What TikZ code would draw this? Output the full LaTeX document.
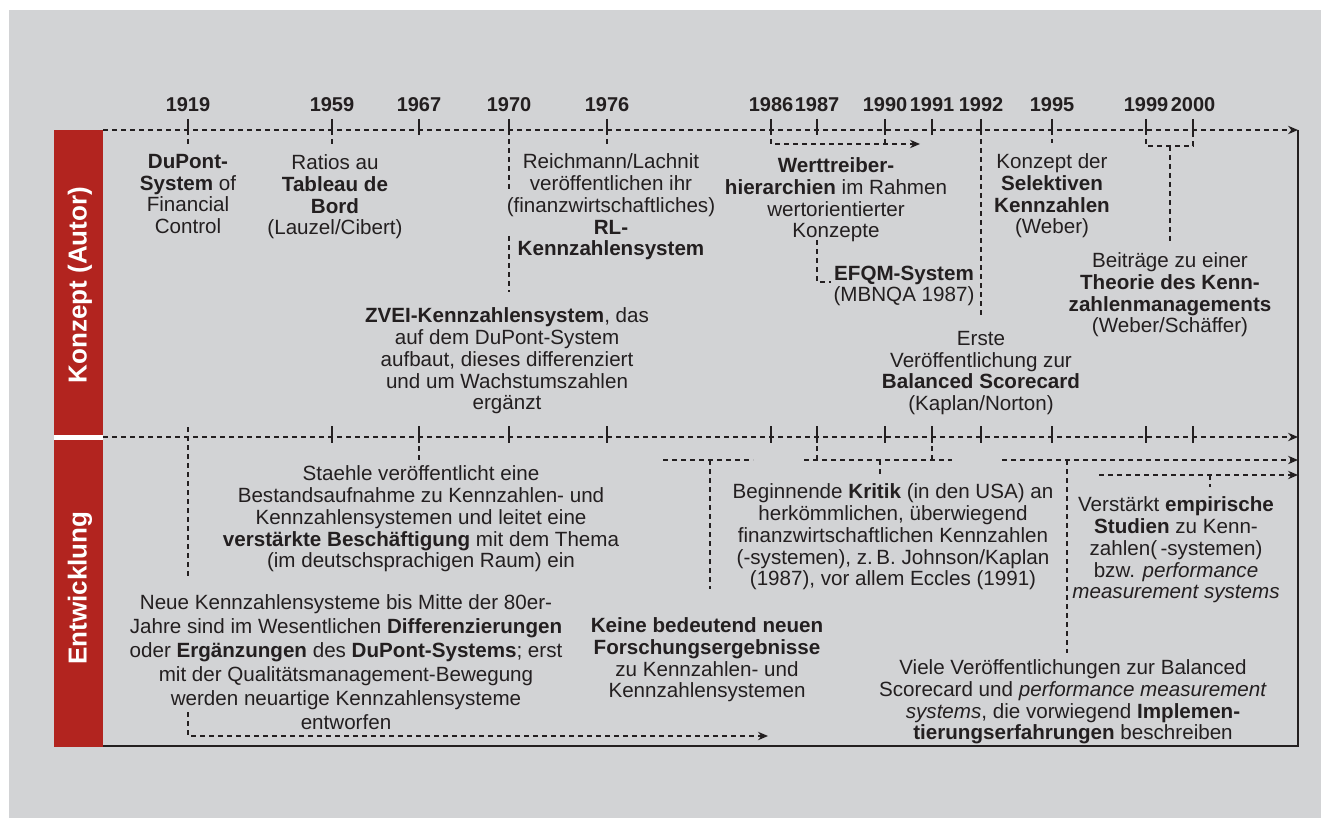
\documentclass[tikz,border=0pt]{standalone}
\usepackage{fontspec}
\setmainfont{Liberation Sans}
\usetikzlibrary{arrows.meta}
\definecolor{bggray}{HTML}{D2D3D5}
\definecolor{barred}{HTML}{B2241F}
\definecolor{ink}{HTML}{231F20}

\begin{document}
\begin{tikzpicture}[x=0.5pt,y=-0.5pt,
	conn/.style={draw=ink,line width=0.65pt,dash pattern=on 2.5pt off 2pt},
	tick/.style={draw=ink,line width=0.75pt},
	txt/.style={align=center,inner sep=0pt,text=ink,font=\fontsize{10.3}{10.85}\selectfont},
	year/.style={inner sep=0pt,text=ink,font=\fontsize{10}{12}\selectfont\bfseries},
	barlabel/.style={rotate=90,inner sep=0pt,text=white,font=\fontsize{13}{15}\selectfont\bfseries},
	tip/.style={-{Stealth[length=5pt,width=4.2pt]}}]
	%BACKGROUND
	\fill[white] (0,0) rectangle (1321,818);
	\fill[bggray] (9,10) rectangle (1321,818);
	\useasboundingbox (0,0) rectangle (1321,818);
	
	%RED BAR
	\fill[barred] (54,130) rectangle (103,747);
	\fill[white] (54,434.5) rectangle (103,439.5);
	\node[barlabel] (konzept) at (80,285) {Konzept (Autor)};
	\node[barlabel] (entw) at (80,588) {Entwicklung};
	
	%FRAME AND TIME LINES
	\draw[ink,line width=1pt] (1298,130) -- (1298,746) -- (103,746);
	\draw[conn,tip] (103,130) -- (1298,130);
	\draw[conn,tip] (103,437) -- (1298,437);
	\foreach \x/\yr in {188/1919,332/1959,419/1967,509/1970,607/1976,771/1986,817/1987,885/1990,932/1991,981/1992,1052/1995,1146/1999,1193/2000}{
		\node[year] (y\yr) at (\x,105) {\yr};
		\coordinate (a\yr) at (\x,130);
		\coordinate (b\yr) at (\x,437);
		\draw[tick] (\x,119) -- (\x,135);
	}
	\foreach \x in {332,419,509,607,771,817,885,932,981,1052,1146,1193}
		\draw[tick] (\x,426) -- (\x,443);
	
	%KONZEPT TEXTS
	\node[txt] (dupont) at (188,194) {\textbf{DuPont-}\\\textbf{System} of\\Financial\\Control};
	\node[txt] (ratios) at (335,197) {Ratios au\\\textbf{Tableau de}\\\textbf{Bord}\\(Lauzel/Cibert)};
	\node[txt] (reich) at (611,207) {Reichmann/Lachnit\\veröffentlichen ihr\\(finanzwirtschaftliches)\\\textbf{RL-}\\\textbf{Kennzahlensystem}};
	\node[txt] (wert) at (836,200) {\textbf{Werttreiber-}\\\textbf{hierarchien} im Rahmen\\wertorientierter\\Konzepte};
	\node[txt] (efqm) at (904,286) {\textbf{EFQM-System}\\(MBNQA 1987)};
	\node[txt] (zvei) at (507,361) {\textbf{ZVEI-Kennzahlensystem}, das\\auf dem DuPont-System\\aufbaut, dieses differenziert\\und um Wachstumszahlen\\ergänzt};
	\node[txt] (erste) at (981,373) {Erste\\Veröffentlichung zur\\\textbf{Balanced Scorecard}\\(Kaplan/Norton)};
	\node[txt] (selekt) at (1052,196) {Konzept der\\\textbf{Selektiven}\\\textbf{Kennzahlen}\\(Weber)};
	\node[txt] (beitr) at (1170,295) {Beiträge zu einer\\\textbf{Theorie des Kenn-}\\\textbf{zahlenmanagements}\\(Weber/Schäffer)};
	
	%ENTWICKLUNG TEXTS
	\node[txt] (staehle) at (421,519) {Staehle veröffentlicht eine\\Bestandsaufnahme zu Kennzahlen- und\\Kennzahlensystemen und leitet eine\\\textbf{verstärkte Beschäftigung} mit dem Thema\\(im deutschsprachigen Raum) ein};
	\node[txt,font=\fontsize{10.3}{12}\selectfont] (neue) at (346,662) {Neue Kennzahlensysteme bis Mitte der 80er-\\Jahre sind im Wesentlichen \textbf{Differenzierungen}\\oder \textbf{Ergänzungen} des \textbf{DuPont-Systems}; erst\\mit der Qualitätsmanagement-Bewegung\\werden neuartige Kennzahlensysteme\\entworfen};
	\node[txt] (keine) at (707,660) {\textbf{Keine bedeutend neuen}\\\textbf{Forschungsergebnisse}\\zu Kennzahlen- und\\Kennzahlensystemen};
	\node[txt] (kritik) at (893,537) {Beginnende \textbf{Kritik} (in den USA) an\\herkömmlichen, überwiegend\\finanzwirtschaftlichen Kennzahlen\\(-systemen), z.\,B. Johnson/Kaplan\\(1987), vor allem Eccles (1991)};
	\node[txt] (verst) at (1176,550) {Verstärkt \textbf{empirische}\\\textbf{Studien} zu Kenn-\\zahlen(\,-systemen)\\bzw. \textit{performance}\\\textit{measurement systems}};
	\node[txt] (viele) at (1073,702) {Viele Veröffentlichungen zur Balanced\\Scorecard und \textit{performance measurement}\\\textit{systems}, die vorwiegend \textbf{Implemen-}\\\textbf{tierungserfahrungen} beschreiben};
	
	%UPPER CONNECTORS
	\coordinate (r1970) at (509,192);
	\coordinate (s1970) at (509,236);
	\coordinate (w1986) at (771,144);
	\coordinate (w1990) at (885,144);
	\coordinate (wend) at (920,144);
	\coordinate (e1) at (817,240);
	\coordinate (e2) at (817,282);
	\coordinate (k1) at (1146,146);
	\coordinate (k2) at (1193,146);
	\coordinate (k3) at (1170,146);
	\draw[conn,shorten >=5pt] (a1919) -- (a1919 |- dupont.north);
	\draw[conn,shorten >=5pt] (a1959) -- (a1959 |- ratios.north);
	\draw[conn,shorten >=5pt] (a1976) -- (a1976 |- reich.north);
	\draw[conn,shorten >=5pt] (a1995) -- (a1995 |- selekt.north);
	\draw[conn] (a1970) -- (r1970);
	\draw[conn,shorten >=8pt] (s1970) -- (s1970 |- zvei.north);
	\draw[conn,tip] (a1986) -- (w1986) -- (wend);
	\draw[conn] (a1990) -- (w1990);
	\draw[conn,shorten >=1pt] (e1) -- (e2) -- (e2 -| efqm.west);
	\draw[conn,shorten >=6pt] (a1992) -- (a1992 |- erste.north);
	\draw[conn] (a1999) -- (k1) -- (k2) -- (a2000);
	\draw[conn,shorten >=5pt] (k3) -- (k3 |- beitr.north);
	
	%LOWER CONNECTORS
	\coordinate (n1) at (188,427);
	\coordinate (n2) at (188,577);
	\coordinate (n3) at (188,712);
	\coordinate (n4) at (188,736);
	\coordinate (n5) at (768,736);
	\coordinate (g1) at (663,460);
	\coordinate (g2) at (753,460);
	\coordinate (g3) at (710,460);
	\coordinate (c1) at (804,460);
	\coordinate (c2) at (952,460);
	\coordinate (c3) at (880,460);
	\coordinate (v1) at (1002,460);
	\coordinate (v2) at (1298,460);
	\coordinate (v3) at (1067,460);
	\coordinate (m1) at (1099,475);
	\coordinate (m2) at (1298,475);
	\coordinate (m3) at (1210,475);
	\draw[conn] (n1) -- (n2);
	\draw[conn,tip] (n3) -- (n4) -- (n5);
	\draw[conn,shorten >=3pt] (b1967) -- (b1967 |- staehle.north);
	\draw[conn] (g1) -- (g2);
	\draw[conn,shorten >=14pt] (g3) -- (g3 |- keine.north);
	\draw[conn] (b1987) -- (b1987 |- c1);
	\draw[conn] (b1991) -- (b1991 |- c1);
	\draw[conn] (c1) -- (c2);
	\draw[conn,shorten >=4pt] (c3) -- (c3 |- kritik.north);
	\draw[conn,tip] (v1) -- (v2);
	\draw[conn,shorten >=3pt] (v3) -- (v3 |- viele.north);
	\draw[conn,tip] (m1) -- (m2);
	\draw[conn,shorten >=5pt] (m3) -- (m3 |- verst.north);
\end{tikzpicture}
\end{document}
